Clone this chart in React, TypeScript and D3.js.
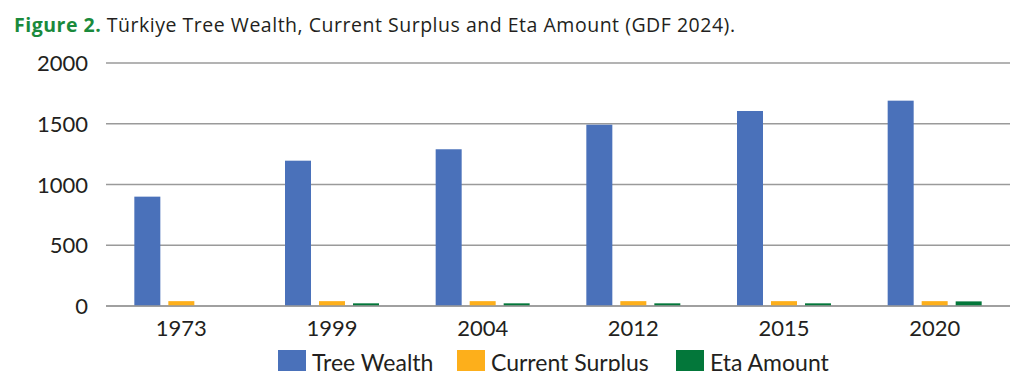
import React from "react";
import * as d3 from "d3";

const categories = ["1973", "1999", "2004", "2012", "2015", "2020"];
const seriesNames = ["Tree Wealth", "Current Surplus", "Eta Amount"];
const treeWealth = [900, 1196, 1290, 1492, 1605, 1690];
const currentSurplus = [40, 40, 40, 40, 40, 40];
const etaAmount = [0, 22, 22, 22, 22, 38];
const yTicks = [0, 500, 1000, 1500, 2000];
const colors = ["#4A71BA", "#FDAF1B", "#03773A"];

export default function App() {
  const W = 1027, H = 383;
  const left = 106, right = 1010, top = 63, bottom = 306;
  const x = d3.scaleBand().domain(categories).range([left, right]).paddingInner(0).paddingOuter(0);
  const y = d3.scaleLinear().domain([0, 2000]).range([bottom, top]);
  const series = [treeWealth, currentSurplus, etaAmount];
  const bw = 26, step = 34;
  const font = "Lato, 'Open Sans', sans-serif";
  const legendX = [278, 457, 676];
  return (
    <svg width={W} height={H} style={{ position: "fixed", left: 0, top: 0, background: "#fff" }}>
      <defs>
        <clipPath id="cut">
          <rect x={0} y={0} width={W} height={371} />
        </clipPath>
      </defs>
      <g clipPath="url(#cut)">
        <text x={14} y={32} fontFamily="'Open Sans', sans-serif" fontSize={19.5} fill="#231F20" textLength={721} lengthAdjust="spacing">
          <tspan fill="#1A8A3C" fontWeight="bold">Figure 2.</tspan>
          <tspan> Türkiye Tree Wealth, Current Surplus and Eta Amount (GDF 2024).</tspan>
        </text>
        {yTicks.map((t) => (
          <g key={t}>
            <line x1={left} x2={right} y1={y(t)} y2={y(t)} stroke="#9A9A9A" strokeWidth={1.5} />
            <text x={88} y={y(t) + 8} textAnchor="end" fontFamily={font} fontSize={22} fill="#231F20">{t}</text>
          </g>
        ))}
        {categories.map((c, i) => {
          const cx = x(c)! + x.bandwidth() / 2;
          return (
            <g key={c}>
              {series.map((s, k) => {
                const v = s[i];
                if (!v) return null;
                const bx = cx - (step * 3 - (step - bw)) / 2 + k * step;
                return <rect key={k} x={bx} y={y(v)} width={bw} height={bottom - y(v)} fill={colors[k]} />;
              })}
              <text x={cx} y={336} textAnchor="middle" fontFamily={font} fontSize={22} fill="#231F20">{c}</text>
            </g>
          );
        })}
        <line x1={left} x2={right} y1={bottom} y2={bottom} stroke="#9A9A9A" strokeWidth={1.5} />
        {seriesNames.map((n, k) => (
          <g key={n}>
            <rect x={legendX[k]} y={350} width={28} height={28} fill={colors[k]} />
            <text x={legendX[k] + 34} y={371} fontFamily={font} fontSize={23} fill="#231F20">{n}</text>
          </g>
        ))}
      </g>
    </svg>
  );
}
